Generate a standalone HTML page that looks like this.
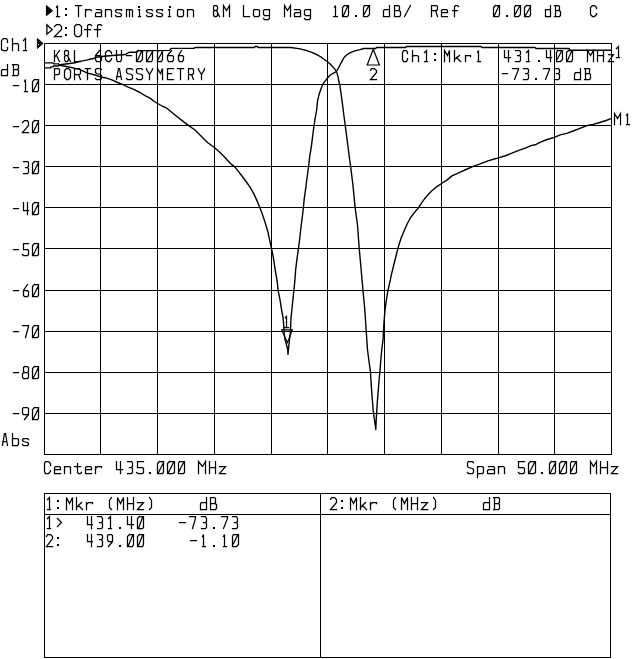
<!DOCTYPE html><html><head><meta charset="utf-8"><style>html,body{margin:0;padding:0;background:#fff;width:640px;height:659px;overflow:hidden;font-family:"Liberation Sans",sans-serif}svg{display:block}</style></head><body>
<svg width="640" height="659" viewBox="0 0 640 659">
<rect width="640" height="659" fill="#fff"/>
<path d="M44.5 43V455M100.5 43V455M157.5 43V455M214.5 43V455M271.5 43V455M327.5 43V455M384.5 43V455M441.5 43V455M498.5 43V455M554.5 43V455M611.5 43V455M44 43.5H612M44 84.5H612M44 125.5H612M44 166.5H612M44 207.5H612M44 248.5H612M44 290.5H612M44 331.5H612M44 372.5H612M44 413.5H612M44 454.5H612" stroke="#000" stroke-width="1" fill="none" shape-rendering="crispEdges"/>
<path d="M44 493.5H611M44 657.5H611M44.5 493V658M610.5 493V658M320.5 493V658M44 514.5H611" stroke="#000" stroke-width="1" fill="none" shape-rendering="crispEdges"/>
<path d="M44 62.9L53 62.9L54 63.9L58.5 63.9L60 65.2L65 66.2L70 67.3L75 68.4L80 69.6L87.5 73.1L95 75L100.6 76.9L105 77.7L111.25 79.6L117.5 82.5L122.5 84.4L127.5 86.9L133.75 89.4L140 92.5L145 95.6L150 98.1L155 102L162.5 106.25L166.25 107.8L175 115L183.75 121.9L188.75 125.6L195 130L201.25 136.25L207.5 142.5L214.4 147.5L220 152.5L225 157.5L227 159.8L231.1 164.1L234.5 166.6L238.6 171.6L242.7 177L246.8 182.5L250.2 187.3L253.6 193.4L257.1 200.9L259.8 207.5L262.5 214.6L265.2 222.8L268 232.3L270 241.9L271.5 248.4L273.3 257.1L275.1 269.3L277.2 281.4L278.1 290.3L280 299.6L281.5 309.3L283.1 318L283.6 324L284 329L284.2 333.8L285 339.2L286.5 344.7L287.7 349.5L288 354.4L288.3 350.7L288.9 345.3L289.5 339.2L290.4 333.2L290.7 325.3L291 318L291.8 310.5L292.9 299.6L293.9 290.3L294.8 281.4L295.7 269.3L296.9 259.6L298.5 248.4L299.8 238L301 227L302.4 216.1L303.4 207.4L304.2 199.1L305.4 190.6L306.8 179.7L308.1 170L308.6 166.5L309.8 155.8L311.4 146.1L312.8 135.2L314 125.5L315.2 118.2L316.7 109.7L317.5 101L319.3 93.7L321.6 87.3L323.8 82.8L326.6 79.1L330.2 75L333.9 72.8L336.1 71.9L338.4 68.2L341.1 62.8L343.9 57.7L346.6 55L350.3 52.7L355 50.9L360 49.6L363.8 48.5L375.6 48.5L376.6 47.5L405.6 47.5L406.6 46.5L481 46.5L482 47.5L535 47.5L536 48.5L569 48.5L570 50.2L611 50.2" stroke="#000" stroke-width="1.4" fill="none" stroke-linejoin="round"/>
<path d="M44 67.9L50.5 67.9L51 66.9L53 66.9L53.5 66L58.5 66L60 64.9L63.1 64.3L68.1 63.7L75 62.8L78.8 61.5L82.5 60.9L87.5 59.9L89.4 59.3L93.8 58.5L95.7 57.3L100.4 56.7L104 56.2L115.4 55.3L122.9 54.8L126 54.3L127 53.4L129.3 52.3L136.5 52.2L137.5 50.6L169.4 50.4L171.2 48.4L194 48.4L195 47.5L254.5 47.5L255 46.5L257.5 46.5L258 47.5L291 47.5L300 48.9L307.5 50.8L312.5 52.6L317.5 55L322 57.7L325.7 60.5L329.3 63.2L332 65.9L334.8 69.1L336.6 71.9L338 76.4L338.5 80L339.7 84.25L341.2 94.6L342.5 104.3L343.7 114L345.2 125.1L346.6 135.8L348 146.75L349.7 160L350.6 166.2L353 185.7L355.1 207.4L357.5 225L359.2 248.4L360.9 266.7L363 290.6L364.7 308.5L366.2 331L367.5 350L370.4 371.7L371.6 390L372.4 400.9L373.3 411.7L374.5 420L375.8 429.5L376.2 420L376.6 413.4L377.4 400.9L378.3 390L379.1 380L379.7 373.4L381.7 350L383 340L383.9 323.5L385 310L386.4 300L388 290L389.2 285L391.7 273.4L395 260L397.9 248.5L399.1 244.3L401.5 237L404.6 229.7L407.6 223L410.7 217.5L414.3 212.7L418.6 207.6L422.8 201.1L427.7 195L431.9 190.8L436.2 187.2L441.6 183.5L447.1 179.9L452 175.9L459.1 172.6L466.1 169.5L473.1 166.4L480.2 163.9L487.2 161.1L494.2 159L498.4 157.9L505.5 155.75L512.5 152.9L519.5 150.1L526.6 147.7L530.8 145.6L535.2 144.8L540.5 142.2L547.1 139.5L554.3 137.3L560.2 134.9L566.7 133.4L573.3 131L579.9 128.4L586.4 125.75L593 124.4L599.6 122.5L606.1 120.5L611.5 118.4" stroke="#000" stroke-width="1.4" fill="none" stroke-linejoin="round"/>
<path d="M281.6 329.9H292.4L287.5 342.5Z" stroke="#000" stroke-width="1.1" fill="none" stroke-linejoin="miter"/>
<path d="M373.3 49.2L379.4 65H367.2Z" stroke="#000" stroke-width="1.2" fill="#fff" stroke-linejoin="miter"/>
<path d="M46.4 5.6L52.6 10.8L46.4 15.6Z" stroke="#000" stroke-width="1" fill="#000"/>
<path d="M46.9 24.8L52.2 29.8L46.9 34.2Z" stroke="#000" stroke-width="1.3" fill="none"/>
<path d="M37.4 38.5L43 43.4L37.4 48.4Z" stroke="#000" stroke-width="1" fill="#000"/>
<rect x="38" y="44" width="1" height="1" fill="#fff"/>
<path d="M56.5 7.5L57.5 5.5L57.5 16.5M56.5 16.5L59.5 16.5M75.5 5.5L81.5 5.5M78.5 5.5L78.5 16.5M85.5 9.5L85.5 16.5M85.5 11.5L86.5 9.5L90.5 9.5L91.5 10.5M96.5 9.5L100.5 9.5L101.5 10.5L101.5 16.5M101.5 12.5L96.5 12.5L95.5 13.5L95.5 16.5L101.5 16.5M105.5 9.5L105.5 16.5M105.5 10.5L106.5 9.5L110.5 9.5L111.5 10.5L111.5 16.5M121.5 10.5L121.5 9.5L116.5 9.5L115.5 10.5L115.5 11.5L116.5 12.5L120.5 13.5L121.5 14.5L121.5 15.5L120.5 16.5L116.5 16.5L115.5 15.5M126.5 16.5L126.5 9.5L131.5 9.5L132.5 10.5L132.5 16.5M129.5 9.5L129.5 16.5M138.5 9.5L139.5 9.5L139.5 16.5M138.5 16.5L140.5 16.5M152.5 10.5L151.5 9.5L147.5 9.5L146.5 10.5L146.5 11.5L147.5 12.5L151.5 13.5L152.5 14.5L152.5 15.5L151.5 16.5L147.5 16.5L146.5 15.5M162.5 10.5L162.5 9.5L157.5 9.5L156.5 10.5L156.5 11.5L157.5 12.5L161.5 13.5L162.5 14.5L162.5 15.5L161.5 16.5L157.5 16.5L156.5 15.5M168.5 9.5L169.5 9.5L169.5 16.5M168.5 16.5L170.5 16.5M178.5 9.5L182.5 9.5L183.5 10.5L183.5 15.5L182.5 16.5L178.5 16.5L177.5 15.5L177.5 10.5L178.5 9.5M187.5 9.5L187.5 16.5M187.5 10.5L188.5 9.5L192.5 9.5L193.5 10.5L193.5 16.5M214.5 5.5L216.5 5.5L217.5 6.5L217.5 9.5L216.5 10.5L214.5 10.5L213.5 9.5L213.5 6.5L214.5 5.5M214.5 10.5L213.5 11.5L213.5 15.5L214.5 16.5L216.5 16.5L217.5 15.5L217.5 12.5M216.5 10.5L219.5 16.5M223.5 16.5L223.5 5.5L226.5 10.5L229.5 5.5L229.5 16.5M243.5 5.5L243.5 16.5L249.5 16.5M254.5 9.5L258.5 9.5L259.5 10.5L259.5 15.5L258.5 16.5L254.5 16.5L253.5 15.5L253.5 10.5L254.5 9.5M269.5 9.5L269.5 18.5L268.5 19.5L264.5 19.5L263.5 18.5M269.5 9.5L264.5 9.5L263.5 10.5L263.5 14.5L264.5 15.5L269.5 15.5M284.5 16.5L284.5 5.5L287.5 10.5L290.5 5.5L290.5 16.5M294.5 9.5L299.5 9.5L300.5 10.5L300.5 16.5M300.5 12.5L295.5 12.5L294.5 13.5L294.5 16.5L300.5 16.5M310.5 9.5L310.5 18.5L309.5 19.5L305.5 19.5L304.5 18.5M310.5 9.5L305.5 9.5L304.5 10.5L304.5 14.5L305.5 15.5L310.5 15.5M334.5 7.5L335.5 5.5L335.5 16.5M333.5 16.5L337.5 16.5M344.5 5.5L348.5 5.5L348.5 14.5L347.5 16.5L342.5 16.5L342.5 7.5L344.5 5.5M343.5 15.5L347.5 6.5M364.5 5.5L369.5 5.5L369.5 14.5L367.5 16.5L363.5 16.5L363.5 7.5L364.5 5.5M363.5 15.5L368.5 6.5M389.5 5.5L389.5 16.5L383.5 16.5L383.5 10.5L384.5 9.5L389.5 9.5M394.5 5.5L394.5 16.5M394.5 5.5L398.5 5.5L399.5 6.5L399.5 9.5L398.5 10.5L394.5 10.5M398.5 10.5L400.5 11.5L400.5 15.5L399.5 16.5L394.5 16.5M404.5 16.5L410.5 5.5M431.5 16.5L431.5 5.5L436.5 5.5L437.5 6.5L437.5 9.5L436.5 10.5L431.5 10.5M435.5 10.5L437.5 16.5M441.5 12.5L447.5 12.5L447.5 10.5L446.5 9.5L442.5 9.5L441.5 10.5L441.5 16.5L447.5 16.5M454.5 16.5L454.5 6.5L455.5 5.5L457.5 5.5L458.5 6.5M452.5 10.5L457.5 10.5M495.5 5.5L499.5 5.5L499.5 14.5L498.5 16.5L493.5 16.5L493.5 7.5L495.5 5.5M494.5 15.5L498.5 6.5M515.5 5.5L520.5 5.5L520.5 14.5L518.5 16.5L514.5 16.5L514.5 7.5L515.5 5.5M514.5 15.5L519.5 6.5M526.5 5.5L530.5 5.5L530.5 14.5L529.5 16.5L524.5 16.5L524.5 7.5L526.5 5.5M525.5 15.5L530.5 6.5M550.5 5.5L550.5 16.5L545.5 16.5L545.5 10.5L545.5 9.5L550.5 9.5M555.5 5.5L555.5 16.5M554.5 5.5L558.5 5.5L559.5 6.5L559.5 9.5L558.5 10.5L555.5 10.5M558.5 10.5L560.5 11.5L560.5 15.5L559.5 16.5L554.5 16.5M596.5 8.5L596.5 7.5L594.5 5.5L592.5 5.5L590.5 7.5L590.5 14.5L592.5 16.5L594.5 16.5L596.5 14.5L596.5 13.5M54.5 26.5L56.5 24.5L59.5 24.5L61.5 26.5L61.5 29.5L54.5 36.5L61.5 36.5M76.5 24.5L79.5 24.5L81.5 26.5L81.5 34.5L79.5 36.5L76.5 36.5L74.5 34.5L74.5 26.5L76.5 24.5M87.5 36.5L87.5 25.5L88.5 24.5L90.5 24.5L91.5 25.5M84.5 29.5L90.5 29.5M97.5 36.5L97.5 25.5L98.5 24.5L100.5 24.5L101.5 25.5M94.5 29.5L100.5 29.5M7.5 42.5L7.5 40.5L6.5 38.5L3.5 38.5L1.5 40.5L1.5 49.5L3.5 50.5L6.5 50.5L7.5 49.5L7.5 47.5M12.5 38.5L12.5 50.5M12.5 44.5L13.5 43.5L17.5 43.5L18.5 44.5L18.5 50.5M23.5 40.5L25.5 38.5L25.5 50.5M23.5 50.5L26.5 50.5M7.5 64.5L7.5 75.5L1.5 75.5L1.5 70.5L2.5 69.5L7.5 69.5M13.5 64.5L13.5 75.5M12.5 64.5L17.5 64.5L18.5 65.5L18.5 68.5L17.5 69.5L13.5 69.5M17.5 69.5L18.5 70.5L18.5 74.5L17.5 75.5L12.5 75.5M13.5 85.5L18.5 85.5M24.5 81.5L25.5 79.5L25.5 91.5M24.5 91.5L27.5 91.5M34.5 79.5L38.5 79.5L38.5 90.5L37.5 91.5L32.5 91.5L32.5 81.5L34.5 79.5M33.5 90.5L38.5 80.5M13.5 126.5L18.5 126.5M22.5 122.5L24.5 120.5L27.5 120.5L28.5 122.5L28.5 125.5L22.5 132.5L28.5 132.5M34.5 120.5L38.5 120.5L38.5 131.5L37.5 132.5L32.5 132.5L32.5 122.5L34.5 120.5M33.5 131.5L38.5 121.5M13.5 167.5L18.5 167.5M23.5 161.5L27.5 161.5L28.5 162.5L28.5 166.5L27.5 167.5L25.5 167.5M27.5 167.5L28.5 168.5L28.5 172.5L27.5 173.5L23.5 173.5M34.5 161.5L38.5 161.5L38.5 172.5L37.5 173.5L32.5 173.5L32.5 163.5L34.5 161.5M33.5 172.5L38.5 162.5M13.5 208.5L18.5 208.5M23.5 202.5L23.5 210.5L28.5 210.5M27.5 202.5L27.5 214.5M34.5 202.5L38.5 202.5L38.5 213.5L37.5 214.5L32.5 214.5L32.5 204.5L34.5 202.5M33.5 213.5L38.5 203.5M13.5 249.5L18.5 249.5M28.5 243.5L23.5 243.5L23.5 249.5L27.5 249.5L28.5 250.5L28.5 254.5L27.5 255.5L23.5 255.5L22.5 254.5M34.5 243.5L38.5 243.5L38.5 254.5L37.5 255.5L32.5 255.5L32.5 245.5L34.5 243.5M33.5 254.5L38.5 244.5M13.5 290.5L18.5 290.5M27.5 284.5L23.5 290.5L23.5 295.5L24.5 296.5L27.5 296.5L28.5 295.5L28.5 291.5L27.5 290.5L23.5 290.5M34.5 284.5L38.5 284.5L38.5 295.5L37.5 296.5L32.5 296.5L32.5 286.5L34.5 284.5M33.5 295.5L38.5 285.5M13.5 331.5L18.5 331.5M22.5 325.5L28.5 325.5L28.5 326.5L25.5 337.5M34.5 325.5L38.5 325.5L38.5 336.5L37.5 337.5L32.5 337.5L32.5 327.5L34.5 325.5M33.5 336.5L38.5 326.5M13.5 372.5L18.5 372.5M24.5 366.5L27.5 366.5L28.5 367.5L28.5 371.5L27.5 372.5L24.5 372.5L23.5 371.5L23.5 367.5L24.5 366.5M24.5 372.5L22.5 373.5L22.5 377.5L23.5 378.5L27.5 378.5L28.5 377.5L28.5 373.5L27.5 372.5M34.5 366.5L38.5 366.5L38.5 377.5L37.5 378.5L32.5 378.5L32.5 368.5L34.5 366.5M33.5 377.5L38.5 367.5M13.5 413.5L18.5 413.5M24.5 419.5L28.5 414.5L28.5 408.5L27.5 407.5L23.5 407.5L22.5 408.5L22.5 413.5L23.5 414.5L28.5 414.5M34.5 407.5L38.5 407.5L38.5 418.5L37.5 419.5L32.5 419.5L32.5 409.5L34.5 407.5M33.5 418.5L38.5 408.5M2.5 445.5L4.5 433.5L5.5 433.5L7.5 445.5M2.5 441.5L6.5 441.5M12.5 433.5L12.5 445.5L17.5 445.5L18.5 444.5L18.5 439.5L17.5 438.5L12.5 438.5M28.5 439.5L27.5 438.5L23.5 438.5L22.5 439.5L22.5 440.5L23.5 441.5L27.5 442.5L28.5 443.5L28.5 444.5L27.5 445.5L23.5 445.5L22.5 444.5M54.5 50.5L54.5 61.5M59.5 50.5L54.5 57.5M56.5 55.5L59.5 61.5M65.5 50.5L67.5 50.5L68.5 51.5L68.5 54.5L67.5 55.5L65.5 55.5L64.5 54.5L64.5 51.5L65.5 50.5M65.5 55.5L64.5 56.5L64.5 59.5L65.5 61.5L67.5 61.5L68.5 59.5L68.5 57.5M67.5 55.5L70.5 61.5M74.5 50.5L74.5 61.5L80.5 61.5M99.5 50.5L95.5 55.5L95.5 59.5L96.5 61.5L100.5 61.5L101.5 59.5L101.5 56.5L100.5 55.5L96.5 55.5M111.5 53.5L111.5 52.5L109.5 50.5L107.5 50.5L105.5 52.5L105.5 59.5L107.5 61.5L109.5 61.5L111.5 59.5L111.5 58.5M116.5 50.5L116.5 59.5L117.5 61.5L120.5 61.5L121.5 59.5L121.5 50.5M126.5 55.5L131.5 55.5M138.5 50.5L142.5 50.5L142.5 59.5L140.5 61.5L136.5 61.5L136.5 52.5L138.5 50.5M137.5 60.5L141.5 51.5M148.5 50.5L152.5 50.5L152.5 59.5L151.5 61.5L146.5 61.5L146.5 52.5L148.5 50.5M147.5 60.5L152.5 51.5M158.5 50.5L162.5 50.5L162.5 59.5L161.5 61.5L157.5 61.5L157.5 52.5L158.5 50.5M157.5 60.5L162.5 51.5M171.5 50.5L167.5 55.5L167.5 59.5L168.5 61.5L172.5 61.5L173.5 59.5L173.5 56.5L172.5 55.5L168.5 55.5M181.5 50.5L178.5 55.5L178.5 59.5L179.5 61.5L182.5 61.5L183.5 59.5L183.5 56.5L182.5 55.5L178.5 55.5M54.5 79.5L54.5 68.5L58.5 68.5L59.5 69.5L59.5 73.5L58.5 74.5L54.5 74.5M66.5 68.5L68.5 68.5L70.5 70.5L70.5 77.5L68.5 79.5L66.5 79.5L64.5 77.5L64.5 70.5L66.5 68.5M74.5 79.5L74.5 68.5L79.5 68.5L80.5 69.5L80.5 73.5L79.5 74.5L74.5 74.5M78.5 74.5L80.5 79.5M85.5 68.5L90.5 68.5M87.5 68.5L87.5 79.5M101.5 69.5L100.5 68.5L96.5 68.5L95.5 69.5L95.5 72.5L96.5 73.5L100.5 74.5L101.5 75.5L101.5 78.5L100.5 79.5L96.5 79.5L95.5 78.5M116.5 79.5L118.5 68.5L119.5 68.5L121.5 79.5M116.5 76.5L120.5 76.5M132.5 69.5L131.5 68.5L127.5 68.5L126.5 69.5L126.5 72.5L127.5 73.5L131.5 74.5L132.5 75.5L132.5 78.5L131.5 79.5L127.5 79.5L126.5 78.5M142.5 69.5L141.5 68.5L137.5 68.5L136.5 69.5L136.5 72.5L137.5 73.5L141.5 74.5L142.5 75.5L142.5 78.5L141.5 79.5L137.5 79.5L136.5 78.5M146.5 68.5L146.5 69.5L149.5 74.5M152.5 68.5L152.5 69.5L149.5 74.5L149.5 79.5M157.5 79.5L157.5 68.5L160.5 73.5L162.5 68.5L162.5 79.5M173.5 68.5L167.5 68.5L167.5 79.5L173.5 79.5M167.5 73.5L171.5 73.5M177.5 68.5L183.5 68.5M180.5 68.5L180.5 79.5M188.5 79.5L188.5 68.5L192.5 68.5L193.5 69.5L193.5 73.5L192.5 74.5L188.5 74.5M191.5 74.5L193.5 79.5M198.5 68.5L198.5 69.5L201.5 74.5M204.5 68.5L204.5 69.5L201.5 74.5L201.5 79.5M407.5 53.5L407.5 52.5L406.5 50.5L403.5 50.5L402.5 52.5L402.5 59.5L403.5 61.5L406.5 61.5L407.5 59.5L407.5 58.5M412.5 50.5L412.5 61.5M412.5 56.5L413.5 55.5L417.5 55.5L418.5 56.5L418.5 61.5M424.5 52.5L426.5 50.5L426.5 61.5M424.5 61.5L427.5 61.5M444.5 61.5L444.5 50.5L447.5 55.5L449.5 50.5L449.5 61.5M454.5 50.5L454.5 61.5M459.5 55.5L454.5 59.5M456.5 57.5L460.5 61.5M465.5 55.5L465.5 61.5M465.5 56.5L466.5 55.5L470.5 55.5L470.5 56.5M477.5 52.5L478.5 50.5L478.5 61.5M477.5 61.5L480.5 61.5M504.5 50.5L504.5 57.5L510.5 57.5M508.5 50.5L508.5 61.5M515.5 50.5L519.5 50.5L520.5 51.5L520.5 54.5L519.5 55.5L517.5 55.5M519.5 55.5L520.5 56.5L520.5 60.5L519.5 61.5L515.5 61.5M526.5 52.5L528.5 50.5L528.5 61.5M526.5 61.5L529.5 61.5M546.5 50.5L546.5 57.5L551.5 57.5M550.5 50.5L550.5 61.5M557.5 50.5L562.5 50.5L562.5 59.5L560.5 61.5L556.5 61.5L556.5 52.5L557.5 50.5M556.5 60.5L561.5 51.5M568.5 50.5L572.5 50.5L572.5 59.5L571.5 61.5L566.5 61.5L566.5 52.5L568.5 50.5M567.5 60.5L571.5 51.5M587.5 61.5L587.5 50.5L590.5 55.5L593.5 50.5L593.5 61.5M597.5 50.5L597.5 61.5M603.5 50.5L603.5 61.5M597.5 55.5L603.5 55.5M608.5 54.5L613.5 54.5L608.5 61.5L613.5 61.5M502.5 73.5L507.5 73.5M512.5 68.5L518.5 68.5L518.5 69.5L514.5 79.5M523.5 68.5L527.5 68.5L528.5 69.5L528.5 72.5L527.5 73.5L525.5 73.5M527.5 73.5L528.5 74.5L528.5 78.5L527.5 79.5L523.5 79.5M543.5 68.5L549.5 68.5L549.5 69.5L545.5 79.5M554.5 68.5L558.5 68.5L559.5 69.5L559.5 72.5L558.5 73.5L556.5 73.5M558.5 73.5L559.5 74.5L559.5 78.5L558.5 79.5L554.5 79.5M580.5 68.5L580.5 79.5L574.5 79.5L574.5 74.5L575.5 72.5L580.5 72.5M585.5 68.5L585.5 79.5M584.5 68.5L589.5 68.5L589.5 69.5L589.5 72.5L589.5 73.5L585.5 73.5M589.5 73.5L590.5 74.5L590.5 78.5L589.5 79.5L584.5 79.5M616.5 48.5L618.5 46.5L618.5 57.5M616.5 57.5L619.5 57.5M614.5 124.5L614.5 113.5L617.5 118.5L620.5 113.5L620.5 124.5M626.5 115.5L627.5 113.5L627.5 124.5M626.5 124.5L629.5 124.5M50.5 465.5L50.5 463.5L48.5 461.5L45.5 461.5L44.5 463.5L44.5 471.5L45.5 473.5L48.5 473.5L50.5 471.5L50.5 470.5M54.5 469.5L60.5 469.5L60.5 467.5L59.5 466.5L55.5 466.5L54.5 467.5L54.5 473.5L60.5 473.5M64.5 466.5L64.5 473.5M64.5 467.5L65.5 466.5L69.5 466.5L70.5 467.5L70.5 473.5M77.5 463.5L77.5 472.5L78.5 473.5L80.5 473.5L81.5 472.5M74.5 466.5L80.5 466.5M85.5 469.5L91.5 469.5L91.5 467.5L90.5 466.5L86.5 466.5L85.5 467.5L85.5 473.5L91.5 473.5M95.5 466.5L95.5 473.5M95.5 468.5L97.5 466.5L101.5 466.5L101.5 467.5M116.5 461.5L116.5 469.5L122.5 469.5M120.5 461.5L120.5 473.5M127.5 461.5L131.5 461.5L132.5 462.5L132.5 466.5L131.5 467.5L129.5 467.5M131.5 467.5L132.5 468.5L132.5 472.5L131.5 473.5L127.5 473.5M143.5 461.5L137.5 461.5L137.5 467.5L142.5 467.5L143.5 468.5L143.5 472.5L142.5 473.5L138.5 473.5L136.5 472.5M159.5 461.5L163.5 461.5L163.5 472.5L162.5 473.5L157.5 473.5L157.5 463.5L159.5 461.5M158.5 472.5L163.5 462.5M169.5 461.5L174.5 461.5L174.5 472.5L172.5 473.5L167.5 473.5L167.5 463.5L169.5 461.5M168.5 472.5L173.5 462.5M179.5 461.5L184.5 461.5L184.5 472.5L183.5 473.5L178.5 473.5L178.5 463.5L179.5 461.5M178.5 472.5L183.5 462.5M198.5 473.5L198.5 461.5L202.5 466.5L205.5 461.5L205.5 473.5M209.5 461.5L209.5 473.5M215.5 461.5L215.5 473.5M209.5 467.5L215.5 467.5M219.5 466.5L225.5 466.5L219.5 473.5L225.5 473.5M473.5 462.5L472.5 461.5L468.5 461.5L467.5 462.5L467.5 466.5L468.5 467.5L472.5 468.5L473.5 469.5L473.5 472.5L472.5 473.5L468.5 473.5L467.5 472.5M477.5 466.5L477.5 477.5M477.5 466.5L482.5 466.5L483.5 467.5L483.5 472.5L482.5 473.5L477.5 473.5M488.5 466.5L493.5 466.5L494.5 467.5L494.5 473.5M494.5 469.5L488.5 469.5L487.5 470.5L487.5 473.5L494.5 473.5M498.5 466.5L498.5 473.5M498.5 467.5L499.5 466.5L503.5 466.5L504.5 467.5L504.5 473.5M524.5 461.5L518.5 461.5L518.5 467.5L523.5 467.5L524.5 468.5L524.5 472.5L523.5 473.5L519.5 473.5L518.5 472.5M530.5 461.5L535.5 461.5L535.5 472.5L533.5 473.5L528.5 473.5L528.5 463.5L530.5 461.5M529.5 472.5L534.5 462.5M551.5 461.5L555.5 461.5L555.5 472.5L554.5 473.5L549.5 473.5L549.5 463.5L551.5 461.5M550.5 472.5L555.5 462.5M561.5 461.5L566.5 461.5L566.5 472.5L564.5 473.5L559.5 473.5L559.5 463.5L561.5 461.5M560.5 472.5L565.5 462.5M571.5 461.5L576.5 461.5L576.5 472.5L574.5 473.5L570.5 473.5L570.5 463.5L571.5 461.5M570.5 472.5L575.5 462.5M590.5 473.5L590.5 461.5L593.5 466.5L596.5 461.5L596.5 473.5M600.5 461.5L600.5 473.5M607.5 461.5L607.5 473.5M600.5 467.5L607.5 467.5M611.5 466.5L617.5 466.5L611.5 473.5L617.5 473.5M47.5 499.5L49.5 497.5L49.5 509.5M47.5 509.5L50.5 509.5M66.5 509.5L66.5 497.5L69.5 503.5L72.5 497.5L72.5 509.5M76.5 497.5L76.5 509.5M81.5 502.5L76.5 507.5M78.5 505.5L82.5 509.5M86.5 502.5L86.5 509.5M86.5 504.5L88.5 502.5L92.5 502.5L92.5 503.5M111.5 497.5L109.5 500.5L109.5 507.5L111.5 509.5M117.5 509.5L117.5 497.5L120.5 503.5L123.5 497.5L123.5 509.5M127.5 497.5L127.5 509.5M133.5 497.5L133.5 509.5M127.5 503.5L133.5 503.5M137.5 502.5L143.5 502.5L137.5 509.5L143.5 509.5M149.5 497.5L151.5 500.5L151.5 507.5L149.5 509.5M206.5 497.5L206.5 509.5L200.5 509.5L200.5 503.5L201.5 502.5L206.5 502.5M210.5 497.5L210.5 509.5M210.5 497.5L214.5 497.5L215.5 498.5L215.5 502.5L214.5 503.5L210.5 503.5M214.5 503.5L216.5 504.5L216.5 508.5L215.5 509.5L210.5 509.5M47.5 518.5L49.5 516.5L49.5 528.5M47.5 528.5L50.5 528.5M57.5 518.5L61.5 522.5L57.5 526.5M87.5 516.5L87.5 524.5L92.5 524.5M91.5 516.5L91.5 528.5M97.5 516.5L101.5 516.5L102.5 518.5L102.5 521.5L101.5 522.5L99.5 522.5M101.5 522.5L102.5 523.5L102.5 527.5L101.5 528.5L97.5 528.5M108.5 518.5L110.5 516.5L110.5 528.5M108.5 528.5L111.5 528.5M127.5 516.5L127.5 524.5L133.5 524.5M131.5 516.5L131.5 528.5M139.5 516.5L143.5 516.5L143.5 527.5L142.5 528.5L137.5 528.5L137.5 518.5L139.5 516.5M138.5 528.5L142.5 517.5M179.5 522.5L185.5 522.5M189.5 516.5L195.5 516.5L195.5 518.5L192.5 528.5M201.5 516.5L205.5 516.5L206.5 518.5L206.5 521.5L205.5 522.5L203.5 522.5M205.5 522.5L206.5 523.5L206.5 527.5L205.5 528.5L201.5 528.5M221.5 516.5L227.5 516.5L227.5 518.5L223.5 528.5M232.5 516.5L236.5 516.5L237.5 518.5L237.5 521.5L236.5 522.5L234.5 522.5M236.5 522.5L237.5 523.5L237.5 527.5L236.5 528.5L232.5 528.5M46.5 536.5L47.5 534.5L50.5 534.5L52.5 536.5L52.5 538.5L46.5 546.5L52.5 546.5M87.5 534.5L87.5 541.5L92.5 541.5M91.5 534.5L91.5 546.5M97.5 534.5L101.5 534.5L102.5 535.5L102.5 538.5L101.5 539.5L99.5 539.5M101.5 539.5L102.5 541.5L102.5 545.5L101.5 546.5L97.5 546.5M108.5 546.5L112.5 541.5L112.5 535.5L111.5 534.5L108.5 534.5L107.5 535.5L107.5 539.5L108.5 541.5L112.5 541.5M129.5 534.5L133.5 534.5L133.5 544.5L132.5 546.5L127.5 546.5L127.5 536.5L129.5 534.5M128.5 545.5L132.5 535.5M139.5 534.5L143.5 534.5L143.5 544.5L142.5 546.5L137.5 546.5L137.5 536.5L139.5 534.5M138.5 545.5L142.5 535.5M190.5 540.5L196.5 540.5M202.5 536.5L203.5 534.5L203.5 546.5M202.5 546.5L205.5 546.5M223.5 536.5L224.5 534.5L224.5 546.5M223.5 546.5L226.5 546.5M233.5 534.5L238.5 534.5L238.5 544.5L236.5 546.5L232.5 546.5L232.5 536.5L233.5 534.5M232.5 545.5L237.5 535.5M330.5 499.5L331.5 497.5L334.5 497.5L336.5 499.5L336.5 502.5L330.5 509.5L336.5 509.5M350.5 509.5L350.5 497.5L353.5 503.5L356.5 497.5L356.5 509.5M360.5 497.5L360.5 509.5M365.5 502.5L360.5 507.5M362.5 505.5L366.5 509.5M370.5 502.5L370.5 509.5M370.5 504.5L372.5 502.5L376.5 502.5L376.5 503.5M395.5 497.5L393.5 500.5L393.5 507.5L395.5 509.5M401.5 509.5L401.5 497.5L404.5 503.5L407.5 497.5L407.5 509.5M411.5 497.5L411.5 509.5M417.5 497.5L417.5 509.5M411.5 503.5L417.5 503.5M421.5 502.5L427.5 502.5L421.5 509.5L427.5 509.5M433.5 497.5L435.5 500.5L435.5 507.5L433.5 509.5M489.5 497.5L489.5 509.5L483.5 509.5L483.5 503.5L484.5 502.5L489.5 502.5M494.5 497.5L494.5 509.5M493.5 497.5L498.5 497.5L499.5 498.5L499.5 502.5L498.5 503.5L494.5 503.5M498.5 503.5L499.5 504.5L499.5 508.5L498.5 509.5L493.5 509.5M285.5 317.5L286.5 316.5L286.5 327.5M284.5 327.5L288.5 327.5M370.5 70.5L371.5 68.5L374.5 68.5L376.5 70.5L376.5 72.5L370.5 79.5L376.5 79.5" stroke="#000" stroke-width="1.25" fill="none" stroke-linecap="square" stroke-linejoin="miter"/>
<path d="M65 8h2v2h-2ZM65 14h2v2h-2ZM138 6h2v2h-2ZM169 6h2v2h-2ZM355 15h2v2h-2ZM506 15h2v2h-2ZM65 27h2v2h-2ZM65 34h2v2h-2ZM434 53h2v2h-2ZM434 59h2v2h-2ZM538 60h2v2h-2ZM535 78h2v2h-2ZM149 472h2v2h-2ZM541 472h2v2h-2ZM57 500h2v2h-2ZM57 507h2v2h-2ZM119 527h2v2h-2ZM213 527h2v2h-2ZM57 537h2v2h-2ZM57 544h2v2h-2ZM119 545h2v2h-2ZM213 545h2v2h-2ZM341 500h2v2h-2ZM341 507h2v2h-2Z" fill="#000"/>
</svg></body></html>
